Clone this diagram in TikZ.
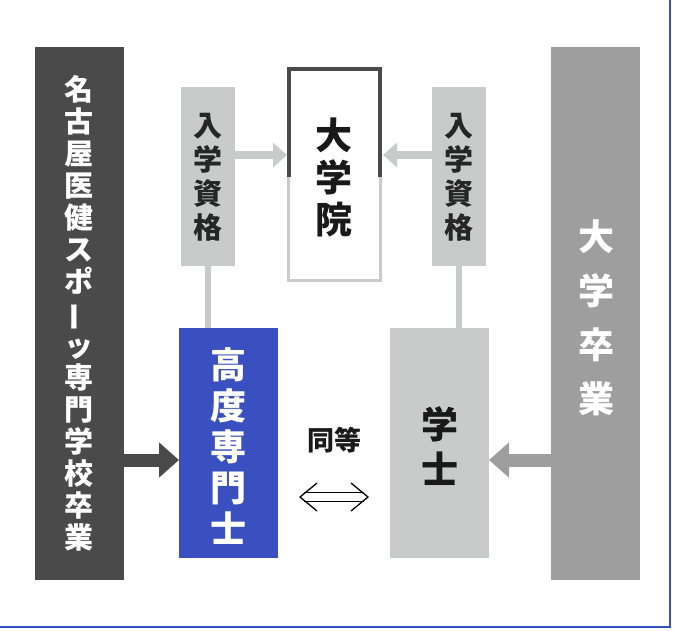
\documentclass[tikz,border=0pt]{standalone}
\usepackage{fontspec}
\newfontfamily\jp{Noto Sans CJK JP}
\usetikzlibrary{arrows.meta}
\definecolor{dk}{HTML}{4A4A4A}
\definecolor{md}{HTML}{9E9E9E}
\definecolor{lt}{HTML}{C9CACA}
\definecolor{bl}{HTML}{3A50C0}
\definecolor{bd}{HTML}{3A50C0}
\tikzset{
 x=1pt,y=-1pt,
 bar/.style={inner sep=0,outer sep=0,anchor=north west},
 vt/.style={align=center,font=\jp},
 fat/.style={line width=13pt,-{Triangle[length=20pt,width=34pt]}},
}
\begin{document}
\begin{tikzpicture}
\useasboundingbox (0,0) rectangle (674,630);
\draw[bd,line width=1.5pt] (0,627) -- (670,627) -- (670,0);
% bars
\node[bar,fill=dk,minimum width=89pt,minimum height=533pt] (L) at (35,47) {};
\node[bar,fill=md,minimum width=89pt,minimum height=533pt] (R) at (551,47) {};
\node[vt,text=white,font=\jp\bfseries\fontsize{29}{32}\selectfont] at (79,313) {名\\古\\屋\\医\\健\\ス\\ポ\\\rotatebox[origin=c]{90}{ー}\\ッ\\専\\門\\学\\校\\卒\\業};
\node[vt,text=white,font=\jp\bfseries\fontsize{36}{54}\selectfont] at (596,318) {大\\学\\卒\\業};
% qualification boxes
\node[bar,fill=lt,minimum width=54pt,minimum height=179pt] (QL) at (181,87) {};
\node[bar,fill=lt,minimum width=54pt,minimum height=179pt] (QR) at (432,87) {};
\node[vt,font=\jp\bfseries\fontsize{29}{34}\selectfont,text=black!85] at (208,177) {入\\学\\資\\格};
\node[vt,font=\jp\bfseries\fontsize{29}{34}\selectfont,text=black!85] at (459,177) {入\\学\\資\\格};
% graduate school
\node[bar,minimum width=96pt,minimum height=215pt] (G) at (287,67) {};
\draw[lt,line width=3pt] (288.5,177) -- (288.5,280.5) -- (380.5,280.5) -- (380.5,177);
\draw[dk,line width=4pt] (289,177) -- (289,69) -- (380,69) -- (380,177);
\node[vt,font=\jp\bfseries\fontsize{37}{42}\selectfont,text=black!90] at (334,177) {大\\学\\院};
% degree boxes
\node[bar,fill=bl,minimum width=99pt,minimum height=230pt] (K) at (179,328) {};
\node[bar,fill=lt,minimum width=99pt,minimum height=230pt] (B) at (390,328) {};
\node[vt,text=white,font=\jp\bfseries\fontsize{36}{41}\selectfont] at (228.5,446) {高\\度\\専\\門\\士};
\node[vt,text=black!90,font=\jp\bfseries\fontsize{37}{45}\selectfont] at (439.5,446) {学\\士};
% connectors
\draw[lt,line width=6pt] (QL.south) -- (QL.south |- K.north);
\draw[lt,line width=6pt] (QR.south) -- (QR.south |- B.north);
\draw[lt,line width=8pt,-{Triangle[length=14pt,width=24pt]}] (QL.east |- 0,155) -- (G.west |- 0,155);
\draw[lt,line width=8pt,-{Triangle[length=14pt,width=24pt]}] (QR.west |- 0,155) -- (G.east |- 0,155);
\draw[dk,fat] (L.east |- 0,460) -- (K.west |- 0,460);
\draw[md,fat] (R.west |- 0,460) -- (B.east |- 0,460);
% equivalence
\node[font=\jp\bfseries\fontsize{27}{30}\selectfont,text=black!90] (eq) at (334,440) {同等};
\coordinate (e1) at (300,497); \coordinate (e2) at (368,497);
\draw[line width=1.3pt] ([xshift=4pt,yshift=-4.5pt]e1) -- ([xshift=-4pt,yshift=-4.5pt]e2);
\draw[line width=1.3pt] ([xshift=4pt,yshift=4.5pt]e1) -- ([xshift=-4pt,yshift=4.5pt]e2);
\draw[line width=1.3pt] ([xshift=17pt,yshift=-14pt]e1) -- (e1) -- ([xshift=17pt,yshift=14pt]e1);
\draw[line width=1.3pt] ([xshift=-17pt,yshift=-14pt]e2) -- (e2) -- ([xshift=-17pt,yshift=14pt]e2);
\end{tikzpicture}
\end{document}
